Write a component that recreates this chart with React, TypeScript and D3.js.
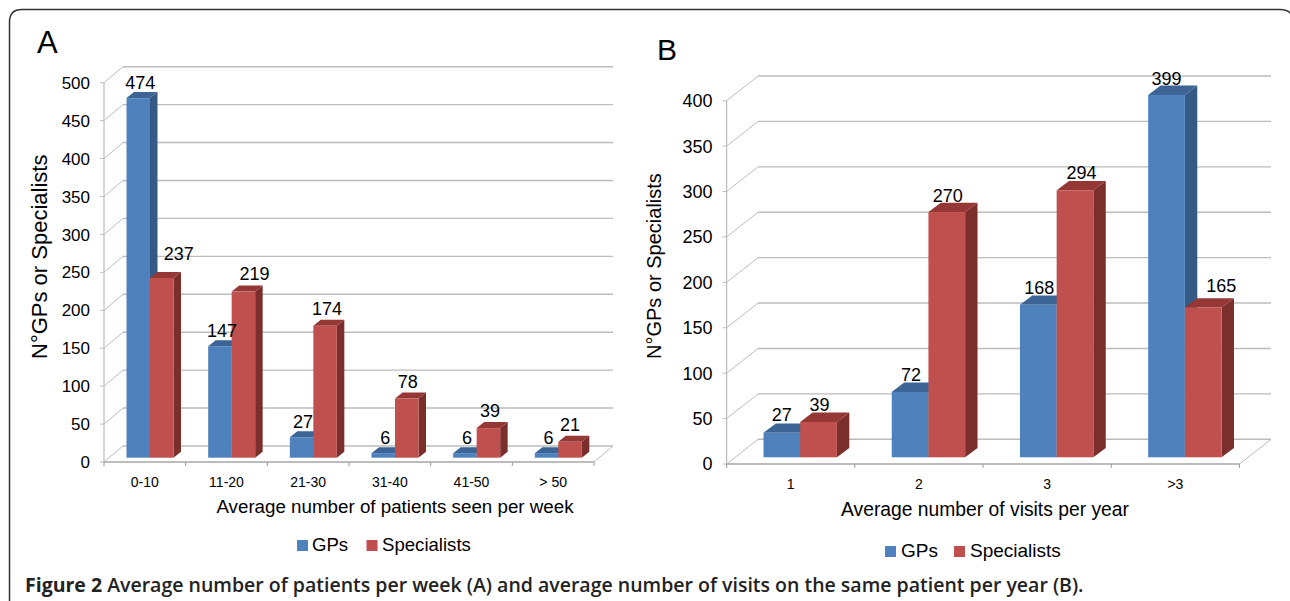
import { scaleBand, scaleLinear } from "d3";

const weekCategories = ["0-10", "11-20", "21-30", "31-40", "41-50", "> 50"];
const weekGps = [474, 147, 27, 6, 6, 6];
const weekSpecialists = [237, 219, 174, 78, 39, 21];

const visitCategories = ["1", "2", "3", ">3"];
const visitGps = [27, 72, 168, 399];
const visitSpecialists = [39, 270, 294, 165];

const blue = { front: "#4f81bd", side: "#355a86", top: "#3c6494" };
const red = { front: "#c0504d", side: "#7b2f2d", top: "#953735" };
const gridColor = "#bcbcbc";
const font = "'Liberation Sans', Arial, sans-serif";

// hand placed labels in the original, nudges are [dx, dy] from the default spot
const weekGpNudge = [[2, 0], [2, 0], [1.5, 0], [2, 0], [2, 0], [2, 0]];
const weekSpecNudge = [[17, -8.5], [11, -2.5], [2, -1], [1, -1], [1.5, -1.5], [0, -1]];
const visitGpNudge = [[0, 1.5], [1, 1.5], [1, 2.5], [0, 2.5]];
const visitSpecNudge = [[1, 1.5], [1, 2.5], [6.5, 1.5], [18, -2.5]];

type PanelProps = {
  letter: string;
  letterX: number;
  letterY: number;
  letterSize: number;
  categories: string[];
  gps: number[];
  specialists: number[];
  gpNudge: number[][];
  specNudge: number[][];
  yMax: number;
  tickCount: number;
  x0: number;
  x1: number;
  y0: number;
  yTop: number;
  wallDx: number;
  wallDy: number;
  barWidth: number;
  barStart: number;
  barLift: number;
  depthX: number;
  depthY: number;
  tickSize: number;
  catSize: number;
  catY: number;
  xTitle: string;
  xTitleX: number;
  xTitleY: number;
  xTitleSize: number;
  yTitleX: number;
  yTitleY: number;
  yTitleSize: number;
  labelSize: number;
  legendY: number;
  legendX: number[];
  legendSize: number;
};

const pts = (list: number[][]) => list.map((p) => p.join(",")).join(" ");

const Panel = (p: PanelProps) => {
  const y = scaleLinear().domain([0, p.yMax]).range([p.y0, p.yTop]);
  const x = scaleBand<string>().domain(p.categories).range([p.x0, p.x1]);
  const yTicks = y.ticks(p.tickCount);
  const bw = x.bandwidth();
  const edges = p.categories.map((c) => x(c) as number).concat(p.x1);

  const drawBar = (value: number, left: number, colors: typeof blue) => {
    const base = p.y0 - p.barLift;
    const top = y(value) - p.barLift;
    const right = left + p.barWidth;
    const dx = p.depthX;
    const dy = p.depthY;
    return (
      <g>
        <polygon
          points={pts([[right, top], [right + dx, top - dy], [right + dx, base - dy], [right, base]])}
          fill={colors.side}
        />
        <polygon
          points={pts([[left, top], [left + dx, top - dy], [right + dx, top - dy], [right, top]])}
          fill={colors.top}
        />
        <rect x={left} y={top} width={p.barWidth} height={base - top} fill={colors.front} />
      </g>
    );
  };

  return (
    <g fontFamily={font} fill="#000">
      <text x={p.letterX} y={p.letterY} fontSize={p.letterSize}>
        {p.letter}
      </text>

      {/* back wall and side wall */}
      {yTicks.map((t) => (
        <g key={t} stroke={gridColor} fill="none">
          <line x1={p.x0 + p.wallDx} x2={p.x1 + p.wallDx} y1={y(t) - p.wallDy} y2={y(t) - p.wallDy} strokeWidth={1.4} />
          <line x1={p.x0} x2={p.x0 + p.wallDx} y1={y(t)} y2={y(t) - p.wallDy} strokeWidth={1} />
          <line x1={p.x0 - 4} x2={p.x0} y1={y(t)} y2={y(t)} strokeWidth={1} />
        </g>
      ))}
      <line x1={p.x0} x2={p.x0} y1={p.yTop} y2={p.y0} stroke={gridColor} strokeWidth={1.2} />
      <line x1={p.x1} x2={p.x1 + p.wallDx} y1={p.y0} y2={p.y0 - p.wallDy} stroke={gridColor} strokeWidth={1} />
      <line x1={p.x0} x2={p.x1} y1={p.y0} y2={p.y0} stroke={gridColor} strokeWidth={1.8} />
      {edges.map((e) => (
        <line key={e} x1={e} x2={e} y1={p.y0} y2={p.y0 + 4} stroke="#999" strokeWidth={1} />
      ))}

      {p.categories.map((c, i) => {
        const left = (x(c) as number) + p.barStart;
        return (
          <g key={c}>
            {drawBar(p.gps[i], left, blue)}
            {drawBar(p.specialists[i], left + p.barWidth, red)}
          </g>
        );
      })}

      {p.categories.map((c, i) => {
        const left = (x(c) as number) + p.barStart;
        const labelY = (v: number) => y(v) - p.barLift - p.depthY - 3.5;
        return (
          <g key={c} fontSize={p.labelSize} textAnchor="middle">
            <text x={left + p.barWidth / 2 + p.gpNudge[i][0]} y={labelY(p.gps[i]) + p.gpNudge[i][1]}>
              {p.gps[i]}
            </text>
            <text x={left + p.barWidth * 1.5 + p.specNudge[i][0]} y={labelY(p.specialists[i]) + p.specNudge[i][1]}>
              {p.specialists[i]}
            </text>
          </g>
        );
      })}

      {yTicks.map((t) => (
        <text key={t} x={p.x0 - 14} y={y(t) + p.tickSize * 0.36} fontSize={p.tickSize} textAnchor="end">
          {t}
        </text>
      ))}
      {p.categories.map((c) => (
        <text key={c} x={(x(c) as number) + bw / 2} y={p.catY} fontSize={p.catSize} textAnchor="middle">
          {c}
        </text>
      ))}
      <text x={p.xTitleX} y={p.xTitleY} fontSize={p.xTitleSize} textAnchor="middle">
        {p.xTitle}
      </text>
      <text
        transform={`translate(${p.yTitleX},${p.yTitleY}) rotate(-90)`}
        fontSize={p.yTitleSize}
      >
        N°GPs or Specialists
      </text>

      <rect x={p.legendX[0]} y={p.legendY - 11} width={11} height={11} fill={blue.front} />
      <text x={p.legendX[1]} y={p.legendY} fontSize={p.legendSize}>
        GPs
      </text>
      <rect x={p.legendX[2]} y={p.legendY - 11} width={11} height={11} fill={red.front} />
      <text x={p.legendX[3]} y={p.legendY} fontSize={p.legendSize}>
        Specialists
      </text>
    </g>
  );
};

export default function App() {
  return (
    <svg
      width={1290}
      height={601}
      style={{ position: "absolute", left: 0, top: 0, background: "#fff" }}
    >
      <path
        d="M9.5 601 V22 Q9.5 9.5 22 9.5 H1280 Q1288 9.5 1291 14"
        fill="none"
        stroke="#333"
        strokeWidth={1.5}
      />
      <Panel
        letter="A"
        letterX={37}
        letterY={53}
        letterSize={31}
        categories={weekCategories}
        gps={weekGps}
        specialists={weekSpecialists}
        gpNudge={weekGpNudge}
        specNudge={weekSpecNudge}
        yMax={500}
        tickCount={10}
        x0={104}
        x1={594}
        y0={462}
        yTop={82.7}
        wallDx={19}
        wallDy={16}
        barWidth={23.5}
        barStart={22.5}
        barLift={4.3}
        depthX={7.5}
        depthY={6}
        tickSize={17}
        catSize={14}
        catY={487}
        xTitle="Average number of patients seen per week"
        xTitleX={395}
        xTitleY={513}
        xTitleSize={18.75}
        yTitleX={47}
        yTitleY={359}
        yTitleSize={22}
        labelSize={18}
        legendY={551}
        legendX={[297, 312, 366.5, 382]}
        legendSize={18.6}
      />
      <Panel
        letter="B"
        letterX={657}
        letterY={60}
        letterSize={30}
        categories={visitCategories}
        gps={visitGps}
        specialists={visitSpecialists}
        gpNudge={visitGpNudge}
        specNudge={visitSpecNudge}
        yMax={400}
        tickCount={8}
        x0={726.6}
        x1={1239.5}
        y0={464}
        yTop={100.7}
        wallDx={31.5}
        wallDy={24.7}
        barWidth={36.7}
        barStart={36.9}
        barLift={6.7}
        depthX={12.4}
        depthY={9.3}
        tickSize={18}
        catSize={14}
        catY={489}
        xTitle="Average number of visits per year"
        xTitleX={985}
        xTitleY={516}
        xTitleSize={19.3}
        yTitleX={661}
        yTitleY={359}
        yTitleSize={20}
        labelSize={18}
        legendY={557}
        legendX={[885, 901, 954, 970]}
        legendSize={19}
      />
      <text x={25} y={592} fontFamily="'Open Sans', 'Noto Sans', sans-serif" fontSize={19.5} fontWeight={700} fill="#222">
        Figure 2 <tspan fontWeight={600}>Average number of patients per week (A) and average number of visits on the same patient per year (B).</tspan>
      </text>
    </svg>
  );
}
